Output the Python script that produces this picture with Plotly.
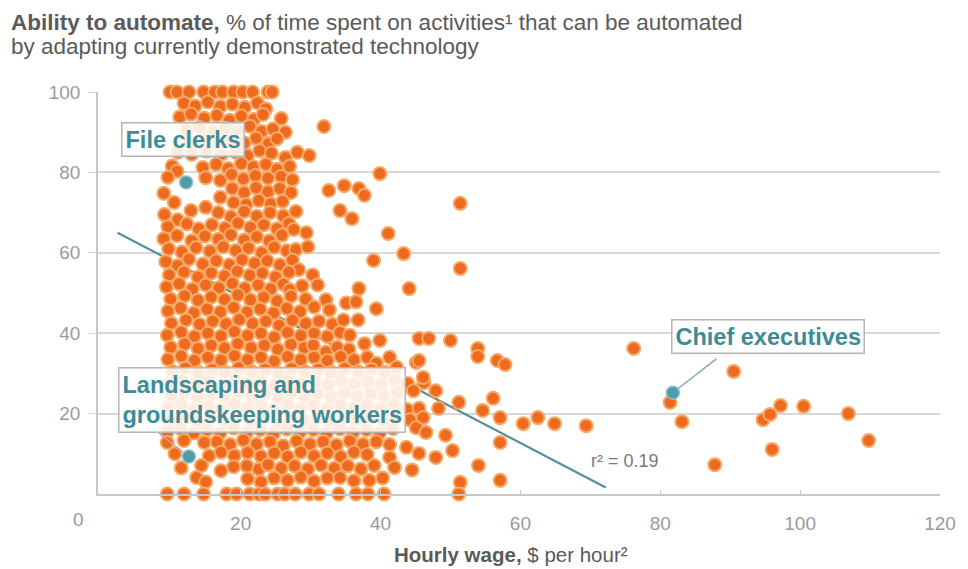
import plotly.graph_objects as go

# ---------------- data (hourly wage $, % automatable) ----------------
core_upper = [
    (9.9,100),(10.9,100),(12.6,100),(14.7,100),(16.3,100),(17.4,100),(19.0,100),(20.3,100),(21.7,100),(23.9,100),(24.5,100),
    (11.9,97.2),(13.5,96.5),(15.3,97.5),(17.1,96.4),(18.8,97.0),(20.6,96.2),(22.4,97.3),(23.6,95.8),
    (11.3,93.8),(12.9,94.5),(14.8,93.5),(16.6,94.2),(18.4,93.0),(20.1,94.0),(21.9,93.2),(23.2,94.4),(25.8,93.4),
    (12.3,90.5),(14.1,91.2),(16.0,90.0),(17.8,91.0),(19.6,90.4),(21.3,91.5),(23.0,90.2),(24.6,90.8),(26.4,90.0),
    (12.8,87.5),(14.8,88.2),(16.8,87.0),(18.6,88.0),(20.5,87.3),(22.2,88.5),(24.0,87.2),(25.2,88.4),
    (11.0,85.0),(13.0,84.5),(15.1,85.3),(17.3,84.6),(19.3,85.0),(21.0,84.2),(22.7,85.4),(24.4,84.8),(26.4,83.7),(28.1,85.0),(29.8,84.2),
    (10.2,81.6),(10.9,80.3),(14.6,81.2),(16.5,82.0),(18.2,81.0),(20.1,82.2),(21.8,81.4),(23.6,82.0),(25.2,80.8),(27.0,81.5),
    (9.6,78.8),(15.0,78.7),(17.1,78.0),(18.7,79.5),(20.4,78.4),(22.1,79.2),(23.9,78.6),(25.8,79.0),(27.4,78.2),
    (9.0,74.8),(17.1,73.8),(18.8,76.0),(20.5,75.0),(22.2,76.2),(23.9,75.2),(25.6,76.0),(27.2,75.0),
    (10.5,72.5),(12.9,70.5),(15.0,71.3),(19.0,72.5),(20.8,72.0),(22.6,73.0),(24.3,72.2),(26.0,72.8),
    (9.1,69.5),(11.0,68.2),(16.8,70.0),(18.6,69.0),(20.5,70.3),(22.3,69.1),(24.2,70.0),(26.1,69.2),(27.9,70.3),
    (9.6,66.5),(12.3,67.2),(14.0,66.0),(15.9,67.0),(17.8,66.2),(19.6,67.4),(21.4,66.3),(23.3,67.0),(25.2,66.0),(26.9,67.3),
    (9.0,63.5),(10.9,64.3),(13.0,63.0),(14.9,64.2),(16.8,63.4),(18.6,64.5),(20.5,63.2),(22.3,64.0),(24.1,63.0),(25.9,64.4),(27.6,65.8),(29.4,65.0),
    (9.7,61.0),(11.6,60.2),(13.6,61.3),(15.6,60.4),(17.5,61.5),(19.3,60.6),(21.1,61.2),(23.0,60.0),(24.8,61.4),(26.6,60.5),(27.9,60.8),(29.6,61.5),
    (9.3,57.8),(11.0,56.8),(12.6,58.4),(14.6,57.2),(16.5,58.0),(18.4,57.0),(20.2,58.3),(22.0,57.4),(23.8,58.0),(25.6,57.0),(27.4,58.2),(28.3,55.8),
]

core_middle = [
    (9.8,54.5),(11.9,55.2),(13.9,54.0),(15.8,55.0),(17.7,54.2),(19.5,55.4),(21.3,54.4),(23.1,55.0),(25.0,54.0),(26.9,55.2),(30.3,54.5),
    (9.4,51.5),(11.2,52.3),(13.1,51.0),(15.0,52.0),(16.9,51.3),(18.8,52.4),(20.6,51.2),(22.5,52.0),(24.3,51.0),(26.1,52.2),(27.0,50.8),(28.8,51.8),(31.0,52.0),
    (10.0,48.5),(12.0,49.3),(13.9,48.2),(15.8,49.0),(17.7,48.4),(19.6,49.5),(21.4,48.3),(23.3,49.0),(25.2,48.0),(27.2,49.2),(29.3,48.5),(32.2,48.3),(35.1,47.5),(36.5,47.8),
    (9.6,45.5),(11.4,46.3),(13.3,45.0),(15.2,46.0),(17.1,45.3),(19.0,46.4),(20.9,45.2),(22.8,46.0),(24.7,45.0),(26.6,46.2),(28.5,45.4),(30.5,46.5),(32.7,45.8),
    (10.1,42.5),(12.2,43.3),(14.1,42.2),(16.0,43.0),(17.9,42.3),(19.8,43.4),(21.7,42.4),(23.6,43.0),(25.5,42.0),(27.4,43.2),(29.3,42.4),(31.2,43.0),(33.1,42.2),(34.7,43.3),(36.8,43.3),
    (9.5,39.5),(11.5,40.3),(13.4,39.2),(15.3,40.0),(17.2,39.3),(19.1,40.4),(21.0,39.4),(22.9,40.0),(24.8,39.0),(26.7,40.2),(28.6,39.4),(30.5,40.0),(32.4,39.2),(34.2,40.2),(35.6,39.5),
    (10.0,36.5),(12.0,37.3),(13.9,36.2),(15.8,37.0),(17.7,36.3),(19.6,37.4),(21.5,36.4),(23.4,37.0),(25.3,36.0),(27.2,37.2),(29.1,36.4),(30.4,37.0),(32.2,35.3),(33.8,36.5),(35.5,36.0),
    (9.6,33.5),(11.5,34.3),(13.4,33.2),(15.3,34.0),(17.2,33.3),(19.1,34.4),(21.0,33.4),(22.9,34.0),(24.8,33.0),(26.7,34.2),(28.6,33.4),(30.5,34.0),(32.4,33.2),(34.3,34.2),(36.2,33.4),(38.1,34.0),(39.4,32.5),(41.3,34.0),
    (10.2,30.5),(12.1,31.3),(14.0,30.2),(15.9,31.0),(17.8,30.3),(19.7,31.4),(21.6,30.4),(23.5,31.0),(25.4,30.0),(27.3,31.2),(29.2,30.4),(31.1,31.0),(33.0,30.2),(34.9,31.2),(36.8,30.4),(38.7,31.0),(40.6,30.3),(42.3,31.5),(45.1,32.7),
]

core_lower = [
    (9.7,27.5),(11.6,28.3),(13.5,27.2),(15.4,28.0),(17.3,27.3),(19.2,28.4),(21.1,27.4),(23.0,28.0),(24.9,27.0),(26.8,28.2),(28.7,27.4),(30.6,28.0),(32.5,27.2),(34.4,28.2),(36.3,27.4),(38.2,28.0),(40.1,27.3),(42.0,28.3),(43.9,27.5),(46.2,27.7),
    (10.1,24.5),(12.0,25.3),(13.9,24.2),(15.8,25.0),(17.7,24.3),(19.6,25.4),(21.5,24.4),(23.4,25.0),(25.3,24.0),(27.2,25.2),(29.1,24.4),(31.0,25.0),(32.9,24.2),(34.8,25.2),(36.7,24.4),(38.6,25.0),(40.5,24.3),(42.4,25.3),(44.7,25.7),
    (9.6,21.5),(11.5,22.3),(13.4,21.2),(15.3,22.0),(17.2,21.3),(19.1,22.4),(21.0,21.4),(22.9,22.0),(24.8,21.0),(26.7,22.2),(28.6,21.4),(30.5,22.0),(32.4,21.2),(34.3,22.2),(36.2,21.4),(38.1,22.0),(40.0,21.3),(41.9,22.3),(43.8,21.0),(45.5,21.3),(48.3,21.3),
    (10.0,18.5),(11.9,19.3),(13.8,18.2),(15.7,19.0),(17.6,18.3),(19.5,19.4),(21.4,18.4),(23.3,19.0),(25.2,18.0),(27.1,19.2),(29.0,18.4),(30.9,19.0),(32.8,18.2),(34.7,19.2),(36.6,18.4),(38.5,19.0),(40.4,18.3),(42.3,19.3),(44.2,18.5),(46.1,19.0),
    (9.5,15.5),(11.4,16.3),(13.3,15.2),(15.2,16.0),(17.1,15.3),(19.0,16.4),(20.9,15.4),(22.8,16.0),(24.7,15.0),(26.6,16.2),(28.5,15.4),(30.4,16.0),(32.3,15.2),(34.2,16.2),(36.1,15.4),(38.0,16.0),(39.9,15.3),(41.8,16.3),(45.1,16.5),(46.5,15.3),(49.3,14.6),
    (9.5,12.8),(11.9,13.3),(14.8,12.8),(16.6,13.0),(18.5,12.3),(20.4,13.4),(22.3,12.4),(24.2,13.0),(26.1,12.0),(28.0,13.2),(29.9,12.4),(31.8,13.0),(33.7,12.2),(35.6,13.2),(37.5,12.4),(39.4,13.0),(41.3,12.3),(43.7,11.6),
    (10.6,10.0),(15.5,9.5),(17.2,10.4),(19.1,9.6),(21.0,10.3),(22.9,9.4),(24.8,10.2),(26.7,9.3),(28.6,10.4),(30.5,9.5),(32.4,10.2),(34.3,9.3),(36.2,10.4),(38.1,9.8),(41.3,9.1),(45.5,10.1),(47.9,9.1),(50.3,10.8),
    (11.5,6.5),(14.4,7.1),(17.2,5.8),(19.0,6.8),(20.9,7.0),(22.6,6.2),(23.9,7.3),(25.8,6.4),(27.7,7.0),(29.6,6.2),(31.5,7.2),(33.4,6.4),(35.3,7.0),(37.2,6.2),(39.1,7.1),(42.0,6.6),(44.5,6.0),
    (13.7,4.1),(15.0,3.0),(21.0,3.8),(22.9,3.0),(24.8,4.0),(26.7,3.4),(28.6,4.2),(30.5,3.2),(32.4,4.0),(34.2,4.1),(36.2,3.3),(38.4,3.4),(40.3,4.0),
    (9.5,0),(11.9,0),(14.7,0),(18.0,0),(19.4,0),(21.3,0),(22.6,0),(23.5,0),(25.3,0),(26.3,0),(27.8,0),(29.8,0),(31.2,0),(34.0,0),(36.5,0),(38.2,0),(40.5,0),
]

mid_wage = [
    (31.9,91.4),(39.9,79.7),(51.4,72.3),(32.6,75.5),(34.8,76.7),(36.9,76.0),(37.7,74.3),(34.2,70.5),(35.9,68.5),
    (41.1,64.8),(43.3,59.8),(39.0,58.1),(51.4,56.1),(44.1,51.1),(36.9,51.1),(39.4,46.1),
    (37.7,37.4),(39.9,38.2),(45.5,38.7),(46.9,38.7),(50.0,38.2),(45.5,33.2),(53.9,36.2),(53.9,34.2),(56.7,33.2),(57.8,32.2),
    (46.1,29.0),(47.9,25.7),(51.2,22.8),(56.1,23.8),(54.6,20.8),(57.1,19.0),(60.4,17.5),(62.5,19.0),(64.9,17.5),(69.4,17.0),
    (57.1,12.8),(54.0,7.1),(51.4,2.9),(57.1,3.4),(51.2,0.0),
]

high_wage = [
    (76.2,36.2),(90.5,30.5),(81.4,22.8),(83.1,18.0),(87.8,7.3),(94.7,18.5),(95.7,19.8),
    (97.2,22.0),(100.5,21.8),(106.9,20.0),(109.8,13.3),(96.0,11.1),
]

highlight_names = ["File clerks", "Landscaping and<br>groundskeeping workers", "Chief executives"]
highlight_wage = [12.2, 12.6, 81.8]
highlight_auto = [77.5, 9.3, 25.2]

fit_wage = [2.4, 72.2]
fit_auto = [65.0, 1.6]
r2_text = "r² = 0.19"

x_ticks = [20, 40, 60, 80, 100, 120]
y_ticks = [20, 40, 60, 80, 100]

# ---------------- figure ----------------
ORANGE = "#EE6A1E"
ORANGE_EDGE = "#F7A865"
TEAL = "#3C8C98"
TEAL_PT = "#4E9BAA"
FONT = "Liberation Sans, Arial, sans-serif"

all_pts = core_upper + core_middle + core_lower + mid_wage + high_wage
xs = [p[0] for p in all_pts]
ys = [p[1] for p in all_pts]

fig = go.Figure()
fig.add_trace(go.Scatter(
    x=fit_wage, y=fit_auto, mode="lines",
    line=dict(color="#55919C", width=2.2), hoverinfo="skip", showlegend=False))
fig.add_trace(go.Scatter(
    x=xs, y=ys, mode="markers", cliponaxis=False,
    marker=dict(size=13, color=ORANGE, line=dict(color=ORANGE_EDGE, width=2)),
    showlegend=False))
fig.add_trace(go.Scatter(
    x=highlight_wage, y=highlight_auto, mode="markers", cliponaxis=False,
    marker=dict(size=13, color=TEAL_PT, line=dict(color="#8FC3CC", width=1.5)),
    showlegend=False))

annotations = []
# title (kept inside the figure's top edge)
annotations.append(dict(
    xref="paper", yref="paper", x=-0.1056, y=1.1735, xanchor="left", yanchor="middle",
    text="<b>Ability to automate,</b> % of time spent on activities¹ that can be automated",
    showarrow=False, font=dict(family=FONT, size=22.5, color="#5a5a5a")))
annotations.append(dict(
    xref="paper", yref="paper", x=-0.1056, y=1.112, xanchor="left", yanchor="middle",
    text="by adapting currently demonstrated technology",
    showarrow=False, font=dict(family=FONT, size=22.5, color="#5a5a5a")))
# x axis title
annotations.append(dict(
    xref="paper", yref="paper", x=0.4906, y=-0.150, xanchor="center", yanchor="middle",
    text="<b>Hourly wage,</b> $ per hour²",
    showarrow=False, font=dict(family=FONT, size=20.5, color="#5a5a5a")))
# corner zero
annotations.append(dict(
    xref="paper", yref="paper", x=-0.0235, y=-0.063, xanchor="center", yanchor="middle",
    text="0", showarrow=False, font=dict(family=FONT, size=19, color="#9a9a9a")))
# r2 label
annotations.append(dict(
    x=74.9, y=8.3, xanchor="center", yanchor="middle", text=r2_text,
    showarrow=False, font=dict(family=FONT, size=18, color="#7a7a7a")))

box = dict(bgcolor="rgba(255,255,255,0.86)", bordercolor="#b5b5b5", borderwidth=1.5,
           borderpad=3, showarrow=False, font=dict(family=FONT, size=23.5, color=TEAL))
annotations.append(dict(x=11.7, y=88.2, text="<b>" + highlight_names[0] + "</b>",
                        xanchor="center", yanchor="middle", **box))
annotations.append(dict(x=23.1, y=23.3, text="<b>" + highlight_names[1] + "</b>",
                        xanchor="center", yanchor="middle", align="left", **box))
annotations.append(dict(x=95.4, y=39.1, text="<b>" + highlight_names[2] + "</b>",
                        xanchor="center", yanchor="middle", **box))
# connector lines
annotations.append(dict(x=highlight_wage[2], y=highlight_auto[2], ax=45, ay=-35, text="",
                        showarrow=True, arrowhead=0, arrowwidth=1.5, arrowcolor="#8aa9ae", standoff=6))
annotations.append(dict(x=highlight_wage[1], y=highlight_auto[1], ax=-32, ay=-25, text="",
                        showarrow=True, arrowhead=0, arrowwidth=1.2, arrowcolor="#b5b5b5", standoff=7))

# page body adds an 8px margin, so the figure is 8px smaller than the window
fig.update_layout(
    width=960, height=561,
    margin=dict(l=90, r=18, t=84, b=75),
    paper_bgcolor="white", plot_bgcolor="white",
    font=dict(family=FONT),
    annotations=annotations,
    xaxis=dict(range=[-0.4, 120], tickvals=x_ticks, showgrid=False, zeroline=False,
               showline=True, linecolor="#c8c8c8", linewidth=1.5,
               ticks="inside", ticklen=4, tickcolor="#c8c8c8",
               tickfont=dict(family=FONT, size=19, color="#9a9a9a"), ticklabelstandoff=11),
    yaxis=dict(range=[0, 100], tickvals=y_ticks, showgrid=True, gridcolor="#d8d8d8", gridwidth=1.5,
               zeroline=False, showline=True, linecolor="#c8c8c8", linewidth=1.5,
               ticks="outside", ticklen=8, tickcolor="#d8d8d8",
               tickfont=dict(family=FONT, size=19, color="#9a9a9a"), ticklabelstandoff=4),
)

fig.write_html("out.html")
